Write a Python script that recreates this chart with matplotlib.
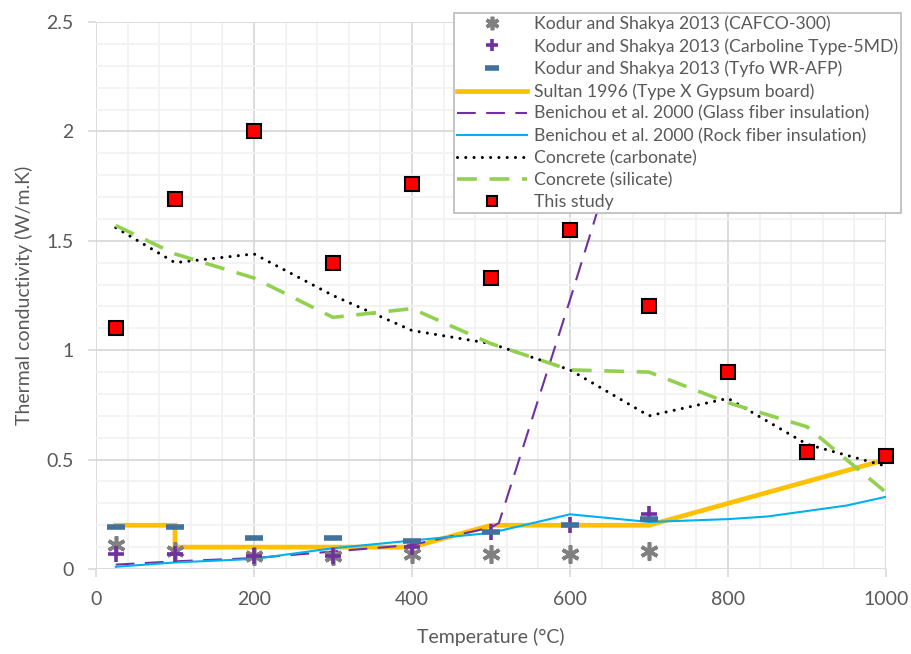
import matplotlib
matplotlib.use('Agg')
import matplotlib.pyplot as plt
from matplotlib.ticker import MultipleLocator, FormatStrFormatter

plt.rcParams['font.family'] = ['Lato', 'DejaVu Sans']

# Kodur and Shakya 2013 (markers only)
kodur_t = [25, 100, 200, 300, 400, 500, 600, 700]
cafco_k = [0.11, 0.08, 0.06, 0.06, 0.07, 0.07, 0.07, 0.08]
carboline_k = [0.07, 0.07, 0.06, 0.06, 0.10, 0.17, 0.20, 0.25]
tyfo_k = [0.19, 0.19, 0.14, 0.14, 0.13, 0.17, 0.20, 0.23]

# Sultan 1996 gypsum board
gypsum_t = [25, 100, 100, 400, 500, 700, 1000]
gypsum_k = [0.20, 0.20, 0.10, 0.10, 0.20, 0.20, 0.50]

# Benichou et al. 2000
glass_t = [25, 100, 200, 300, 400, 500, 510, 600, 700]
glass_k = [0.02, 0.035, 0.05, 0.08, 0.11, 0.19, 0.21, 1.23, 2.40]
rock_t = [25, 100, 200, 300, 400, 500, 600, 700, 800, 850, 950, 1000]
rock_k = [0.01, 0.03, 0.046, 0.095, 0.13, 0.165, 0.25, 0.215, 0.228, 0.24, 0.29, 0.33]

# concrete
conc_t = [25, 100, 200, 300, 400, 500, 600, 700, 800, 900, 1000]
carbonate_k = [1.56, 1.40, 1.44, 1.25, 1.09, 1.03, 0.91, 0.70, 0.78, 0.57, 0.47]
silicate_k = [1.57, 1.44, 1.33, 1.15, 1.19, 1.03, 0.91, 0.90, 0.76, 0.65, 0.35]

# this study
study_t = [25, 100, 200, 300, 400, 500, 600, 700, 800, 900, 1000]
study_k = [1.10, 1.69, 2.00, 1.40, 1.76, 1.33, 1.55, 1.20, 0.90, 0.535, 0.515]

fig = plt.figure(figsize=(9.12, 6.54), dpi=100)
ax = fig.add_axes([96 / 912, 1 - 569 / 654, 790 / 912, 547 / 654])

ax.plot(gypsum_t, gypsum_k, color='#FFC000', lw=3.4, solid_joinstyle='miter',
        label='Sultan 1996 (Type X Gypsum board)', zorder=3)
ax.plot(glass_t, glass_k, color='#7030A0', lw=1.5, ls=(0, (9, 5)),
        label='Benichou et al. 2000 (Glass fiber insulation)', zorder=3)
ax.plot(rock_t, rock_k, color='#00B0F0', lw=1.5,
        label='Benichou et al. 2000 (Rock fiber insulation)', zorder=3)
ax.plot(conc_t, carbonate_k, color='black', lw=2.2, ls=(0, (0.01, 2.7)),
        dash_capstyle='round', label='Concrete (carbonate)', zorder=3)
ax.plot(conc_t, silicate_k, color='#92D050', lw=2.6, ls=(0, (5.5, 3.5)),
        label='Concrete (silicate)', zorder=3)

ax.plot(kodur_t, cafco_k, ls='none', marker=(6, 2, 0), ms=13, mew=2.6,
        color='#808080', label='Kodur and Shakya 2013 (CAFCO-300)', zorder=4)
ax.plot(kodur_t, carboline_k, ls='none', marker='+', ms=12, mew=2.6,
        color='#7030A0', label='Kodur and Shakya 2013 (Carboline Type-5MD)', zorder=4)
ax.plot(kodur_t, tyfo_k, ls='none', marker='_', ms=13, mew=4,
        color='#41719C', label='Kodur and Shakya 2013 (Tyfo WR-AFP)', zorder=4)
ax.plot(study_t, study_k, ls='none', marker='s', ms=10.5, mfc='#FF0000',
        mec='black', mew=1.5, label='This study', zorder=5, clip_on=False)

ax.set_xlim(0, 1000)
ax.set_ylim(0, 2.5)
ax.xaxis.set_major_locator(MultipleLocator(200))
ax.xaxis.set_minor_locator(MultipleLocator(40))
ax.yaxis.set_major_locator(MultipleLocator(0.5))
ax.yaxis.set_minor_locator(MultipleLocator(0.1))
ax.yaxis.set_major_formatter(FormatStrFormatter('%g'))
ax.grid(which='major', color='#D9D9D9', lw=1.3)
ax.grid(which='minor', color='#F2F2F2', lw=1.3)
ax.set_axisbelow(True)
for s in ax.spines.values():
    s.set_visible(False)
ax.tick_params(which='major', length=6, width=1.2, color='#D9D9D9',
               labelcolor='#595959', labelsize=14, pad=10)
ax.tick_params(which='minor', length=0)

ax.set_xlabel('Temperature (°C)', fontsize=14, color='#595959', labelpad=14)
ax.set_ylabel('Thermal conductivity (W/m.K)', fontsize=14, color='#595959', labelpad=10)

handles, labels = ax.get_legend_handles_labels()
order = [5, 6, 7, 0, 1, 2, 3, 4, 8]
leg = fig.legend([handles[i] for i in order], [labels[i] for i in order],
                 loc='upper right', bbox_to_anchor=(910 / 912, 1 - 4 / 654),
                 fontsize=12.7, frameon=True, fancybox=False, framealpha=1,
                 edgecolor='#BFBFBF', handlelength=4.0, handletextpad=0.4,
                 labelspacing=0.34, borderpad=0.15, markerscale=0.75)
leg.get_frame().set_linewidth(1.3)
leg.set_zorder(10)
for t in leg.get_texts():
    t.set_color('#595959')

fig.savefig('out.png', dpi=100)
